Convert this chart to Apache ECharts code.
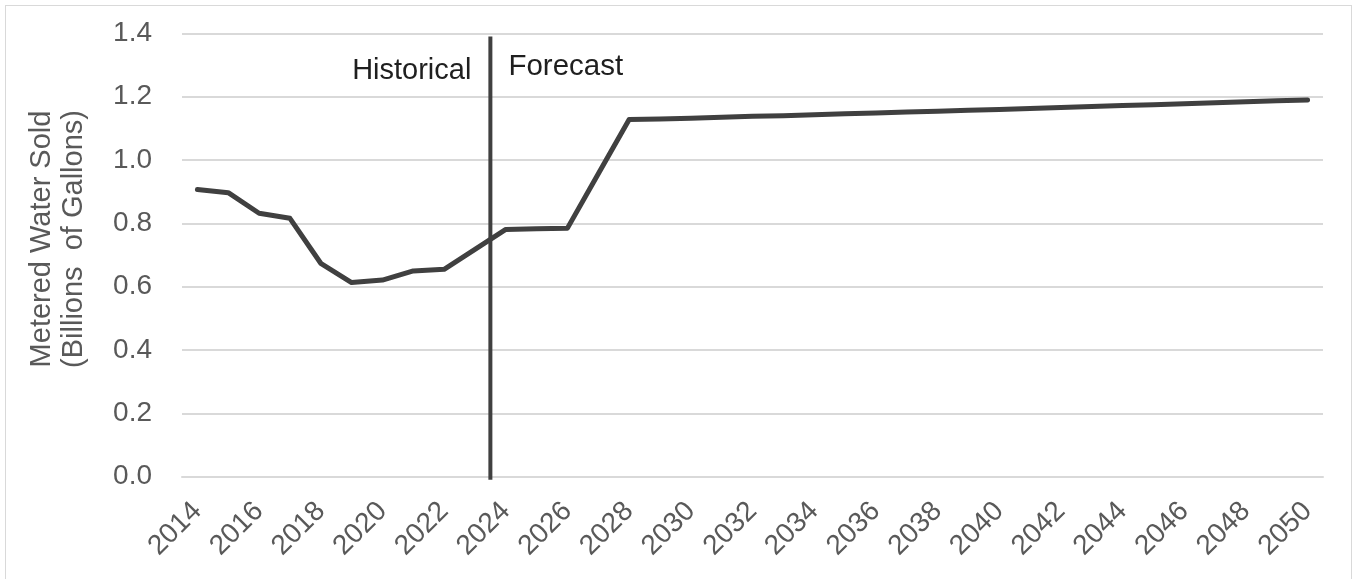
<!DOCTYPE html>
<html>
<head>
<meta charset="utf-8">
<script src="https://cdn.jsdelivr.net/npm/echarts@6/dist/echarts.min.js"></script>
<style>
  html, body { margin: 0; padding: 0; background: #ffffff; }
  #frame {
    position: absolute; left: 5px; top: 5px; width: 1347px; height: 600px;
    border: 1px solid #d9d9d9; box-sizing: border-box;
  }
  #chart { position: absolute; left: 0; top: 0; width: 1358px; height: 579px; }
</style>
</head>
<body>
<div id="frame"></div>
<div id="chart"></div>
<script>
// Metered water sold, billions of gallons, by year
const years = [
  '2014','2015','2016','2017','2018','2019','2020','2021','2022','2023',
  '2024','2025','2026','2027','2028','2029','2030','2031','2032','2033',
  '2034','2035','2036','2037','2038','2039','2040','2041','2042','2043',
  '2044','2045','2046','2047','2048','2049','2050'
];
const waterSold = [
  0.907, 0.897, 0.832, 0.816, 0.674, 0.613, 0.621, 0.650, 0.655, 0.718,
  0.781, 0.783, 0.785, 0.957, 1.128, 1.130, 1.132, 1.135, 1.138, 1.140,
  1.143, 1.146, 1.149, 1.152, 1.154, 1.157, 1.160, 1.163, 1.166, 1.169,
  1.172, 1.175, 1.178, 1.181, 1.184, 1.187, 1.190
];
const yTicks = { min: 0, max: 1.4, step: 0.2 };
const yTitle = 'Metered Water Sold\n(Billions  of Gallons)';
// Divider between historical and forecast years (boundary before 2024)
const dividerIndex = 10;
const dividerSpan = [-0.01, 1.39];
const periodLabels = { left: 'Historical', right: 'Forecast' };

const FONT = "'Liberation Sans', Arial, sans-serif";
const chart = echarts.init(document.getElementById('chart'), null, { renderer: 'canvas' });

const option = {
  animation: false,
  grid: { left: 182, right: 35, top: 33.4, bottom: 102.3, containLabel: false },
  xAxis: [
    {
      type: 'category',
      data: years,
      boundaryGap: true,
      axisLine: { show: true, lineStyle: { color: '#d9d9d9', width: 2 } },
      axisTick: { show: false },
      axisLabel: {
        interval: 1,
        rotate: 45,
        margin: 30,
        color: '#595959',
        fontSize: 28,
        fontFamily: FONT
      }
    },
    {
      type: 'value',
      min: 0,
      max: years.length,
      show: false
    }
  ],
  yAxis: {
    type: 'value',
    min: yTicks.min,
    max: yTicks.max,
    interval: yTicks.step,
    axisLine: { show: false },
    axisTick: { show: false },
    axisLabel: {
      margin: 30,
      color: '#595959',
      fontSize: 28,
      fontFamily: FONT,
      formatter: v => v.toFixed(1)
    },
    splitLine: { lineStyle: { color: '#d9d9d9', width: 2 } }
  },
  series: [
    {
      type: 'line',
      xAxisIndex: 0,
      data: waterSold,
      showSymbol: false,
      symbol: 'none',
      lineStyle: { color: '#404040', width: 5, cap: 'round', join: 'round' },
      z: 3
    },
    {
      type: 'line',
      xAxisIndex: 1,
      data: dividerSpan.map(v => [dividerIndex, v]),
      showSymbol: false,
      symbol: 'none',
      clip: false,
      lineStyle: { color: '#404040', width: 4 },
      z: 4
    }
  ]
};
chart.setOption(option);

// Period captions either side of the divider, and the rotated axis title
const leftPos = chart.convertToPixel({ xAxisIndex: 1, yAxisIndex: 0 }, [dividerIndex, 1.28]);
const rightPos = chart.convertToPixel({ xAxisIndex: 1, yAxisIndex: 0 }, [dividerIndex, 1.295]);
chart.setOption({
  graphic: [
    {
      type: 'text', x: leftPos[0] - 19, y: leftPos[1],
      style: { text: periodLabels.left, fill: '#1f1f1f', fontSize: 29, fontFamily: FONT,
               textAlign: 'right', textVerticalAlign: 'middle' }
    },
    {
      type: 'text', x: rightPos[0] + 18, y: rightPos[1],
      style: { text: periodLabels.right, fill: '#1f1f1f', fontSize: 29.5, fontFamily: FONT,
               textAlign: 'left', textVerticalAlign: 'middle' }
    },
    {
      type: 'text', x: 58, y: 239, rotation: Math.PI / 2,
      style: { text: yTitle, fill: '#595959', fontSize: 29, lineHeight: 32, fontFamily: FONT,
               textAlign: 'center', textVerticalAlign: 'middle' }
    }
  ]
});
</script>
</body>
</html>
